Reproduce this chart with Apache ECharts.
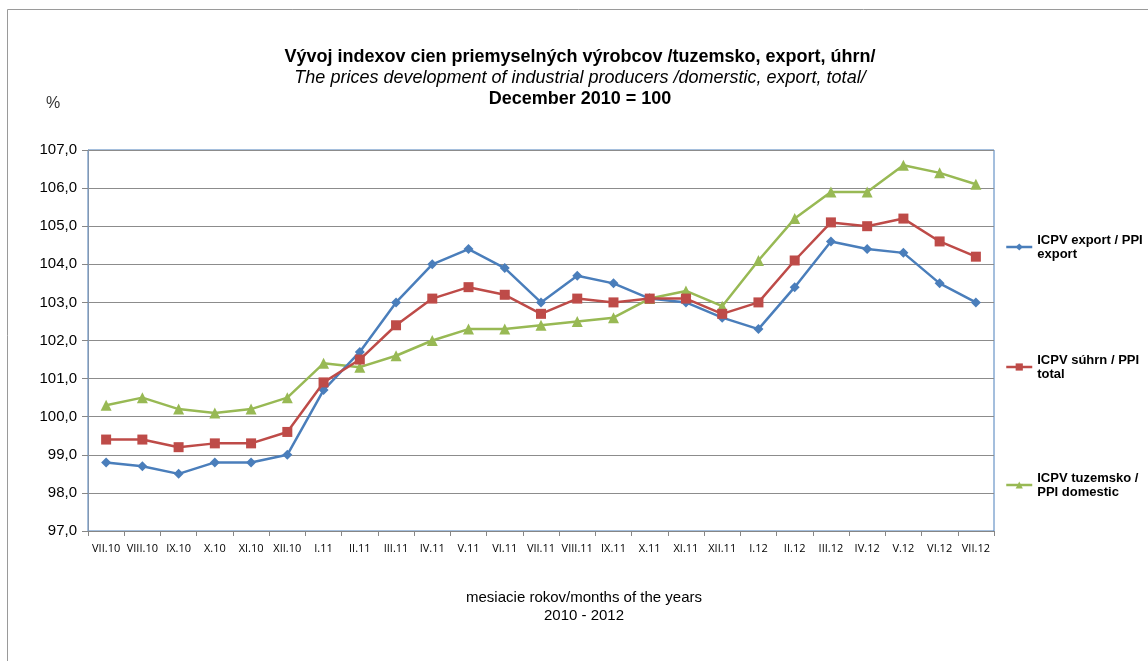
<!DOCTYPE html>
<html>
<head>
<meta charset="utf-8">
<script src="https://cdn.jsdelivr.net/npm/echarts@6/dist/echarts.min.js"></script>
<style>
html,body{margin:0;padding:0;background:#fff;}
#c{width:1148px;height:661px;}
</style>
</head>
<body>
<div id="c"></div>
<script>
const categories = ["VII.10","VIII.10","IX.10","X.10","XI.10","XII.10","I.11","II.11","III.11","IV.11","V.11","VI.11","VII.11","VIII.11","IX.11","X.11","XI.11","XII.11","I.12","II.12","III.12","IV.12","V.12","VI.12","VII.12"];
const exportValues = [98.8,98.7,98.5,98.8,98.8,99.0,100.7,101.7,103.0,104.0,104.4,103.9,103.0,103.7,103.5,103.1,103.0,102.6,102.3,103.4,104.6,104.4,104.3,103.5,103.0];
const totalValues = [99.4,99.4,99.2,99.3,99.3,99.6,100.9,101.5,102.4,103.1,103.4,103.2,102.7,103.1,103.0,103.1,103.1,102.7,103.0,104.1,105.1,105.0,105.2,104.6,104.2];
const domesticValues = [100.3,100.5,100.2,100.1,100.2,100.5,101.4,101.3,101.6,102.0,102.3,102.3,102.4,102.5,102.6,103.1,103.3,102.9,104.1,105.2,105.9,105.9,106.6,106.4,106.1];
const seriesNames = ["ICPV export / PPI\nexport","ICPV súhrn / PPI\ntotal","ICPV tuzemsko /\nPPI domestic"];
const titleLines = ["Vývoj indexov cien priemyselných výrobcov /tuzemsko, export, úhrn/","The prices development of industrial producers /domerstic, export, total/","December 2010 = 100"];
const xAxisTitle = ["mesiacie rokov/months of the years","2010 - 2012"];

const chart = echarts.init(document.getElementById('c'), null, {renderer:'canvas'});
const font = "'Liberation Sans', Arial, sans-serif";
const colors = ['#4a7ebb','#be4b48','#98b954'];
const legendTops = [228, 348, 466];

chart.setOption({
  animation:false,
  backgroundColor:'#fff',
  textStyle:{fontFamily:font},
  grid:{left:88,right:154,top:150,bottom:130,show:true,borderColor:'#4a7ebb',borderWidth:1},
  graphic:[
    {type:'rect',shape:{x:7.5,y:9.5,width:1200,height:700},style:{fill:'none',stroke:'#9a9a9a',lineWidth:1},silent:true,z:-1},
    {type:'text',x:580,y:57,style:{text:titleLines[0],font:"bold 18px "+font,fill:'#000',textAlign:'center',textVerticalAlign:'middle'}},
    {type:'text',x:580,y:78,style:{text:titleLines[1],font:"italic 18px "+font,fill:'#000',textAlign:'center',textVerticalAlign:'middle'}},
    {type:'text',x:580,y:99,style:{text:titleLines[2],font:"bold 18px "+font,fill:'#000',textAlign:'center',textVerticalAlign:'middle'}},
    {type:'text',x:53,y:104,style:{text:'%',font:"16px "+font,fill:'#333',textAlign:'center',textVerticalAlign:'middle'}},
    {type:'text',x:584,y:598,style:{text:xAxisTitle[0],font:"15px "+font,fill:'#000',textAlign:'center',textVerticalAlign:'middle'}},
    {type:'text',x:584,y:616,style:{text:xAxisTitle[1],font:"15px "+font,fill:'#000',textAlign:'center',textVerticalAlign:'middle'}}
  ],
  legend: seriesNames.map((n,i)=>({
    data:[n], left:1000, top:legendTops[i], orient:'vertical',
    itemWidth:26, itemHeight:9, itemGap:4,
    lineStyle:{width:2.5},
    textStyle:{fontFamily:font,fontSize:13,fontWeight:'bold',color:'#000',lineHeight:14},
    selectedMode:false
  })),
  xAxis:{
    type:'category', data:categories, boundaryGap:true,
    axisLine:{lineStyle:{color:'#868686',width:1}},
    axisTick:{show:true,interval:0,length:5,lineStyle:{color:'#868686'}},
    axisLabel:{interval:0,fontSize:11,color:'#000',fontFamily:"'Open Sans', "+font,margin:12},
    splitLine:{show:false}
  },
  yAxis:{
    type:'value', min:97, max:107, interval:1,
    axisLine:{show:true,lineStyle:{color:'#8497b0',width:1}},
    axisTick:{show:true,length:6,lineStyle:{color:'#868686'}},
    axisLabel:{fontSize:15,color:'#000',margin:11,formatter:v=>v.toFixed(1).replace('.',',')},
    splitLine:{show:true,lineStyle:{color:'#8c8c8c',width:1}}
  },
  series:[
    {name:seriesNames[0],type:'line',data:exportValues,symbol:'diamond',symbolSize:10,itemStyle:{color:colors[0]},lineStyle:{color:colors[0],width:2.5},z:3},
    {name:seriesNames[1],type:'line',data:totalValues,symbol:'rect',symbolSize:10,itemStyle:{color:colors[1]},lineStyle:{color:colors[1],width:2.5},z:4},
    {name:seriesNames[2],type:'line',data:domesticValues,symbol:'triangle',symbolSize:11,itemStyle:{color:colors[2]},lineStyle:{color:colors[2],width:2.5},z:2}
  ]
});
</script>
</body>
</html>
